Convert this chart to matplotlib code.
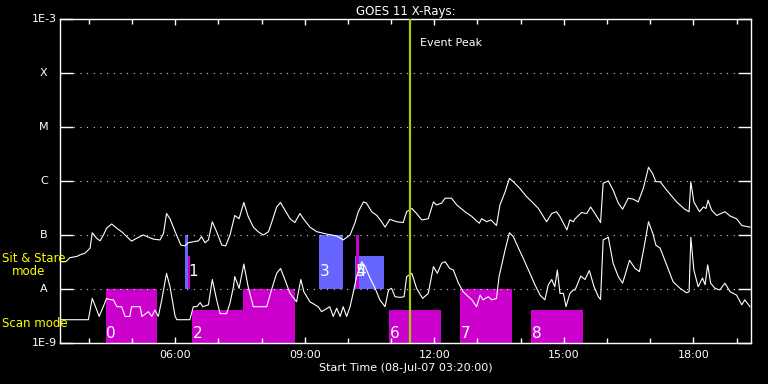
import matplotlib
matplotlib.use("Agg")
import matplotlib.pyplot as plt
from matplotlib.patches import Rectangle
from matplotlib.ticker import FixedLocator, FuncFormatter, NullLocator

# GOES 11 long channel (1-8 A), hours UT on 08-Jul-07, flux in W/m^2
long_hours = [3.36, 3.47, 3.56, 3.72, 3.80, 3.91, 4.03, 4.08, 4.18, 4.26,
              4.34, 4.41, 4.53, 4.65, 4.76, 4.88, 4.99, 5.11, 5.26, 5.38,
              5.49, 5.65, 5.73, 5.80, 5.88, 6.00, 6.13, 6.23, 6.30, 6.42,
              6.54, 6.61, 6.69, 6.77, 6.86, 6.96, 7.08, 7.17, 7.27, 7.38,
              7.48, 7.59, 7.69, 7.81, 7.92, 8.04, 8.16, 8.24, 8.35, 8.44,
              8.54, 8.66, 8.77, 8.89, 8.97, 9.12, 9.28, 9.51, 9.74, 9.89,
              10.05, 10.16, 10.24, 10.36, 10.43, 10.55, 10.67, 10.78, 10.86, 10.97,
              11.13, 11.28, 11.36, 11.48, 11.59, 11.71, 11.86, 11.98, 12.05, 12.17,
              12.25, 12.40, 12.52, 12.71, 12.87, 13.04, 13.10, 13.21, 13.31, 13.44,
              13.52, 13.64, 13.74, 13.83, 13.98, 14.14, 14.29, 14.41, 14.60, 14.72,
              14.83, 14.91, 14.99, 15.07, 15.14, 15.22, 15.26, 15.41, 15.53, 15.62,
              15.72, 15.85, 15.91, 16.03, 16.14, 16.26, 16.36, 16.49, 16.61, 16.72,
              16.84, 16.96, 17.06, 17.13, 17.23, 17.38, 17.61, 17.80, 17.90, 17.94,
              18.01, 18.14, 18.23, 18.29, 18.34, 18.42, 18.54, 18.73, 18.85, 19.00,
              19.12, 19.31]
long_flux = [3.2e-8, 3.2e-8, 3.8e-8, 4.0e-8, 4.3e-8, 4.6e-8, 5.7e-8, 1.1e-7, 8.7e-8, 7.8e-8,
             1.0e-7, 1.33e-7, 1.6e-7, 1.33e-7, 1.15e-7, 9.3e-8, 7.7e-8, 8.7e-8, 1.0e-7, 9.1e-8,
             8.4e-8, 8.1e-8, 1.07e-7, 2.5e-7, 2.0e-7, 1.15e-7, 6.5e-8, 6.3e-8, 7.2e-8, 7.5e-8,
             7.8e-8, 9.3e-8, 7.2e-8, 8.1e-8, 1.76e-7, 1.15e-7, 6.5e-8, 6.3e-8, 1.0e-7, 2.3e-7,
             2.0e-7, 4.0e-7, 2.2e-7, 1.4e-7, 1.15e-7, 1.0e-7, 1.15e-7, 1.76e-7, 3.3e-7, 4.0e-7,
             2.9e-7, 2.0e-7, 1.7e-7, 2.5e-7, 2.0e-7, 1.4e-7, 1.15e-7, 1.04e-7, 9.6e-8, 8.1e-8,
             1.0e-7, 1.65e-7, 2.7e-7, 4.1e-7, 3.9e-7, 2.7e-7, 2.3e-7, 1.76e-7, 1.4e-7, 1.95e-7,
             1.76e-7, 1.7e-7, 2.7e-7, 3.1e-7, 2.5e-7, 1.9e-7, 2.0e-7, 4.1e-7, 3.6e-7, 3.9e-7,
             4.8e-7, 4.8e-7, 3.6e-7, 2.7e-7, 2.2e-7, 1.65e-7, 2.0e-7, 1.76e-7, 1.9e-7, 1.5e-7,
             3.6e-7, 6.3e-7, 1.12e-6, 9.7e-7, 7.3e-7, 5.1e-7, 3.9e-7, 3.1e-7, 1.76e-7, 2.5e-7,
             2.7e-7, 2.2e-7, 1.65e-7, 1.24e-7, 1.9e-7, 1.76e-7, 2.0e-7, 2.6e-7, 2.5e-7, 3.3e-7,
             2.5e-7, 1.7e-7, 9.1e-7, 1.0e-6, 6.8e-7, 3.9e-7, 3.0e-7, 4.8e-7, 4.6e-7, 4.1e-7,
             7.3e-7, 1.8e-6, 1.35e-6, 9.7e-7, 9.7e-7, 6.8e-7, 4.1e-7, 3.0e-7, 2.7e-7, 9.7e-7,
             4.1e-7, 2.7e-7, 3.3e-7, 3.1e-7, 4.4e-7, 2.9e-7, 2.3e-7, 2.7e-7, 2.25e-7, 2.0e-7,
             1.5e-7, 1.4e-7]

# GOES 11 short channel (0.5-4 A)
short_hours = [3.33, 3.99, 4.08, 4.17, 4.24, 4.34, 4.41, 4.47, 4.57, 4.65,
               4.76, 4.84, 4.95, 4.99, 5.19, 5.23, 5.38, 5.46, 5.53, 5.61,
               5.69, 5.80, 5.88, 6.00, 6.04, 6.34, 6.42, 6.50, 6.58, 6.64,
               6.77, 6.86, 6.96, 7.04, 7.19, 7.27, 7.35, 7.38, 7.48, 7.59,
               7.69, 7.81, 8.12, 8.23, 8.35, 8.44, 8.54, 8.66, 8.81, 8.91,
               8.98, 9.12, 9.31, 9.39, 9.58, 9.66, 9.74, 9.82, 9.89, 9.97,
               10.05, 10.12, 10.20, 10.32, 10.40, 10.51, 10.63, 10.74, 10.86, 10.94,
               11.01, 11.09, 11.21, 11.30, 11.36, 11.48, 11.59, 11.73, 11.86, 11.98,
               12.07, 12.17, 12.25, 12.36, 12.44, 12.56, 12.67, 12.79, 12.87, 12.98,
               13.06, 13.13, 13.25, 13.33, 13.44, 13.50, 13.64, 13.74, 13.83, 13.95,
               14.06, 14.18, 14.33, 14.45, 14.56, 14.64, 14.72, 14.79, 14.85, 14.91,
               14.99, 15.05, 15.14, 15.22, 15.26, 15.39, 15.49, 15.59, 15.70, 15.80,
               15.85, 15.91, 16.03, 16.14, 16.26, 16.36, 16.52, 16.65, 16.75, 16.86,
               16.96, 17.06, 17.13, 17.23, 17.38, 17.53, 17.69, 17.84, 17.90, 17.94,
               18.01, 18.11, 18.21, 18.27, 18.33, 18.40, 18.50, 18.61, 18.73, 18.85,
               19.00, 19.12, 19.19, 19.31]
short_flux = [2.7e-9, 2.7e-9, 6.7e-9, 4.4e-9, 3.1e-9, 4.8e-9, 6.7e-9, 6.4e-9, 6.3e-9, 4.7e-9,
              4.7e-9, 3.1e-9, 3.1e-9, 4.7e-9, 4.7e-9, 3.1e-9, 3.8e-9, 3.1e-9, 4.1e-9, 3.1e-9,
              6.3e-9, 1.95e-8, 1.1e-8, 3.1e-9, 2.7e-9, 2.7e-9, 4.7e-9, 4.7e-9, 5.6e-9, 4.7e-9,
              5.1e-9, 1.5e-8, 6.3e-9, 3.5e-9, 3.5e-9, 5.5e-9, 1.1e-8, 1.7e-8, 1.03e-8, 2.9e-8,
              1.1e-8, 4.7e-9, 4.7e-9, 9.6e-9, 1.95e-8, 2.4e-8, 1.5e-8, 8.3e-9, 5.8e-9, 1.5e-8,
              8.9e-9, 5.8e-9, 4.7e-9, 3.8e-9, 4.7e-9, 3.1e-9, 4.4e-9, 3.1e-9, 4.7e-9, 3.1e-9,
              4.7e-9, 8.3e-9, 1.7e-8, 3.2e-8, 2.6e-8, 1.6e-8, 1.03e-8, 6.3e-9, 4.7e-9, 9.6e-9,
              1.03e-8, 7.2e-9, 7.0e-9, 7.2e-9, 1.7e-8, 1.95e-8, 1.03e-8, 6.7e-9, 8.3e-9, 2.6e-8,
              1.95e-8, 3.0e-8, 3.2e-8, 2.4e-8, 2.25e-8, 1.28e-8, 8.9e-9, 7.2e-9, 6.3e-9, 4.7e-9,
              7.7e-9, 6.3e-9, 7.2e-9, 6.3e-9, 6.7e-9, 1.7e-8, 5.3e-8, 1.1e-7, 9.3e-8, 5.7e-8,
              3.7e-8, 2.25e-8, 1.2e-8, 7.7e-9, 6.3e-9, 1.2e-8, 1.5e-8, 1.1e-8, 2.25e-8, 8.3e-9,
              8.3e-9, 4.7e-9, 8.3e-9, 9.6e-9, 9.6e-9, 1.74e-8, 1.5e-8, 2.2e-8, 1.1e-8, 7.2e-9,
              6.4e-9, 8.1e-8, 9.1e-8, 3.0e-8, 1.7e-8, 1.28e-8, 3.4e-8, 2.4e-8, 2.1e-8, 6.1e-8,
              1.76e-7, 1.07e-7, 6.5e-8, 5.7e-8, 2.8e-8, 1.36e-8, 1.03e-8, 8.5e-9, 8.9e-9, 9.1e-8,
              2.25e-8, 1.1e-8, 1.6e-8, 1.2e-8, 2.8e-8, 1.28e-8, 1.03e-8, 9.6e-9, 1.28e-8, 8.9e-9,
              7.7e-9, 5.1e-9, 6.3e-9, 4.7e-9]

# observing blocks (scan mode sits under A, sit & stare between A and B)
block_labels = ["0", "", "1", "", "2", "3", "5", "4", "6", "7", "8"]
block_modes = ["scan", "stare", "stare", "scan", "scan", "stare", "stare", "stare",
               "scan", "scan", "scan"]
block_start = [4.39, 6.23, 6.29, 7.56, 6.39, 9.33, 10.16, 10.18, 10.95, 12.59, 14.24]
block_end = [5.59, 6.29, 6.34, 8.77, 8.77, 9.88, 10.83, 10.26, 12.16, 13.79, 15.44]
block_top = [1e-8, 1e-7, 4e-8, 1e-8, 4e-9, 1e-7, 4e-8, 1e-7, 4e-9, 1e-8, 4e-9]
block_kind = ["m", "b", "m", "m", "m", "b", "b", "m", "m", "m", "m"]

event_peak = 11.44
t_start, t_end = 3 + 20 / 60, 19 + 20 / 60

flux_levels = [1e-9, 1e-8, 1e-7, 1e-6, 1e-5, 1e-4, 1e-3]
flux_names = ["1E-9", "A", "B", "C", "M", "X", "1E-3"]
hour_ticks = [6, 9, 12, 15, 18]

MAGENTA = "#cc00cc"
BLUE = "#6666ff"
PEAK = "#a0d000"


def draw_blocks(ax):
    """ Draw the scan / sit & stare blocks with their numbers. """
    for lab, mode, t0, t1, top, kind in zip(block_labels, block_modes, block_start,
                                             block_end, block_top, block_kind):
        low = 1e-9 if mode == "scan" else 1e-8
        col = MAGENTA if kind == "m" else BLUE
        ax.add_patch(Rectangle((t0, low), t1 - t0, top - low, facecolor=col,
                               edgecolor="none", zorder=1))
        if lab:
            ypos = low * 1.5 if mode == "scan" else low * 2.1
            ax.text(t0 + 0.02, ypos, lab, color="white", fontsize=11,
                    ha="left", va="center", zorder=5)


def main():
    """ Build the GOES plot and save it. """
    fig = plt.figure(figsize=(7.68, 3.84), dpi=100, facecolor="black")
    ax = fig.add_axes([60 / 768, 1 - 343 / 384, 691 / 768, 324 / 384])
    ax.set_facecolor("black")

    ax.set_yscale("log")
    ax.set_ylim(1e-9, 1e-3)
    ax.set_xlim(t_start, t_end)

    draw_blocks(ax)

    ax.plot(long_hours, long_flux, color="white", lw=0.8, zorder=3)
    ax.plot(short_hours, short_flux, color="white", lw=0.8, zorder=3)

    ax.axvline(event_peak, color=PEAK, lw=1.6, zorder=4)
    ax.text(event_peak + 0.24, 10 ** -3.44, "Event Peak", color="white",
            fontsize=8, ha="left", va="center")

    # axes cosmetics
    for sp in ax.spines.values():
        sp.set_color("white")
        sp.set_linewidth(1.0)
    ax.yaxis.set_major_locator(FixedLocator(flux_levels))
    ax.yaxis.set_minor_locator(NullLocator())
    ax.tick_params(axis="y", which="major", direction="in", length=9.5, width=1.0,
                   color="white", left=True, right=True, labelleft=False)
    ax.grid(axis="y", which="major", color="white", linestyle=(0, (0.8, 5.2)),
            linewidth=0.8)
    for lvl, name in zip(flux_levels, flux_names):
        ax.text(-0.0232, lvl, name, transform=ax.get_yaxis_transform(),
                color="white", fontsize=8, ha="center", va="center")

    ax.xaxis.set_major_locator(FixedLocator(hour_ticks))
    ax.xaxis.set_minor_locator(FixedLocator(range(4, 20)))
    ax.xaxis.set_major_formatter(FuncFormatter(lambda h, p: f"{int(h):02d}:00"))
    ax.tick_params(axis="x", which="major", direction="in", length=4.5, width=1.0,
                   color="white", labelcolor="white", labelsize=8, top=True, pad=5)
    ax.tick_params(axis="x", which="minor", direction="in", length=3.5, width=1.0,
                   color="white", top=True)

    ax.set_title("GOES 11 X-Rays:", color="white", fontsize=8.5, pad=3)
    ax.set_xlabel("Start Time (08-Jul-07 03:20:00)", color="white", fontsize=8,
                  labelpad=2)

    fig.text(2 / 768, 1 - 258.5 / 384, "Sit & Stare", color="yellow", fontsize=8.5,
             ha="left", va="center")
    fig.text(12 / 768, 1 - 271.5 / 384, "mode", color="yellow", fontsize=8.5,
             ha="left", va="center")
    fig.text(2 / 768, 1 - 323.5 / 384, "Scan mode", color="yellow", fontsize=8.5,
             ha="left", va="center")

    fig.savefig("out.png", dpi=100, facecolor="black")


if __name__ == '__main__':
    main()
